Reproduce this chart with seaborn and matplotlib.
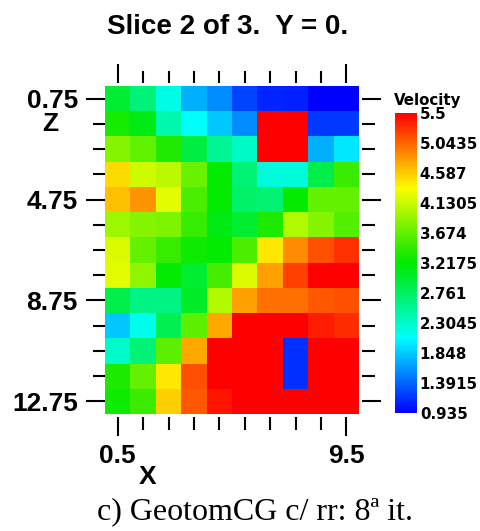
import numpy as np
import pandas as pd
import matplotlib
matplotlib.use("Agg")
import matplotlib.pyplot as plt
from matplotlib.colors import ListedColormap, hsv_to_rgb
import seaborn as sns

# Grid coordinates (cell centres)
x_labels = ["0.5", "1.5", "2.5", "3.5", "4.5", "5.5", "6.5", "7.5", "8.5", "9.5"]
z_labels = ["0.75", "1.75", "2.75", "3.75", "4.75", "5.75", "6.75",
            "7.75", "8.75", "9.75", "10.75", "11.75", "12.75"]

# Velocity per row (Z), one value per X cell
z075 = [2.97, 2.65, 2.17, 1.73, 1.56, 1.24, 1.10, 1.08, 0.94, 0.94]
z175 = [3.31, 3.12, 2.42, 2.08, 1.83, 1.56, 5.50, 5.50, 1.20, 1.20]
z275 = [3.84, 3.67, 3.37, 2.91, 2.53, 2.32, 5.50, 5.50, 1.73, 1.97]
z375 = [4.51, 4.15, 4.07, 3.71, 3.22, 2.68, 2.23, 2.23, 2.87, 3.50]
z475 = [4.64, 4.83, 4.24, 3.56, 3.22, 2.72, 2.70, 3.22, 3.69, 3.69]
z575 = [3.94, 3.84, 3.79, 3.47, 3.12, 2.97, 3.35, 4.02, 3.84, 3.60]
z675 = [4.21, 3.69, 3.47, 3.28, 3.22, 3.58, 4.45, 4.87, 5.14, 5.27]
z775 = [4.24, 3.88, 3.22, 2.97, 3.54, 4.21, 4.78, 5.20, 5.50, 5.50]
z875 = [2.87, 2.61, 2.61, 3.03, 4.02, 4.78, 5.00, 5.00, 5.10, 5.14]
z975 = [1.83, 2.16, 2.84, 3.66, 4.74, 5.50, 5.50, 5.50, 5.37, 5.30]
z1075 = [2.30, 2.68, 3.66, 4.74, 5.50, 5.50, 5.50, 1.16, 5.50, 5.50]
z1175 = [3.35, 3.69, 4.45, 5.14, 5.50, 5.50, 5.50, 1.16, 5.50, 5.50]
z1275 = [3.28, 3.50, 4.57, 5.10, 5.40, 5.50, 5.50, 5.50, 5.50, 5.50]

vel_min, vel_max = 0.935, 5.5
cbar_ticks = [5.5, 5.0435, 4.587, 4.1305, 3.674, 3.2175, 2.761,
              2.3045, 1.848, 1.3915, 0.935]

rows = [z075, z175, z275, z375, z475, z575, z675, z775, z875, z975,
        z1075, z1175, z1275]
df = pd.DataFrame(rows, index=z_labels, columns=x_labels)

# Rainbow colour scale: hue runs from blue (low) to red (high),
# with the greens toned down slightly
hue_deg = np.linspace(240, 0, 256)
val = 1 - 0.08 * np.exp(-((hue_deg - 120) / 40) ** 2)
hsv = np.stack([hue_deg / 360.0, np.ones_like(hue_deg), val], axis=1)
cmap = ListedColormap(hsv_to_rgb(hsv))

sns.set_style("white")
plt.rcParams["font.family"] = ["Liberation Sans", "DejaVu Sans"]
plt.rcParams["text.color"] = "black"
plt.rcParams["xtick.color"] = "black"
plt.rcParams["ytick.color"] = "black"

W, H = 480, 531
fig = plt.figure(figsize=(W / 100, H / 100), dpi=100)


def fx(px):
    return px / W


def fy(py):
    return 1 - py / H


ax = fig.add_axes([fx(105), fy(414), fx(359 - 105), (414 - 86) / H])
cax = fig.add_axes([fx(395), fy(413), fx(22), 300 / H])

sns.heatmap(df, ax=ax, cmap=cmap, vmin=vel_min, vmax=vel_max,
            cbar_ax=cax, cbar_kws={"ticks": cbar_ticks},
            xticklabels=True, yticklabels=True)

# X axis: labelled ends, plain ticks between, on top and bottom
ncol = len(x_labels)
ax.set_xticks([0.5, ncol - 0.5])
ax.set_xticklabels([x_labels[0], x_labels[-1]], rotation=0)
ax.set_xticks(np.arange(1.5, ncol - 1, 1.0), minor=True)

# Z axis: every fourth row labelled, ticks on both sides
nrow = len(z_labels)
major_rows = list(range(0, nrow, 4))
ax.set_yticks([r + 0.5 for r in major_rows])
ax.set_yticklabels([z_labels[r] for r in major_rows], rotation=0)
ax.set_yticks([r + 0.5 for r in range(nrow) if r not in major_rows], minor=True)

ax.tick_params(axis="x", which="both", top=True, bottom=True, direction="out",
               width=1.5, color="black", labelcolor="black", pad=5.5)
ax.tick_params(axis="y", which="both", left=True, right=True, direction="out",
               width=1.5, color="black", labelcolor="black", pad=5.5)
ax.tick_params(which="major", length=14)
ax.tick_params(which="minor", length=9)

for side in ["top", "bottom", "right"]:
    ax.spines[side].set_position(("outward", 2.3))
for sp in ax.spines.values():
    sp.set_visible(False)

for lab in ax.get_xticklabels() + ax.get_yticklabels():
    lab.set_fontsize(19)
    lab.set_fontweight("bold")
    lab.set_family("Liberation Sans")
    lab.set_color("black")

ax.set_xlabel("")
ax.set_ylabel("")

# Axis names
fig.text(fx(148), fy(477), "X", ha="center", va="center", fontsize=19,
         fontweight="bold", family="Liberation Sans", color="black")
fig.text(fx(50), fy(124), "Z", ha="center", va="center", fontsize=19,
         fontweight="bold", family="Liberation Sans", color="black")

# Colour bar labels
cbar = ax.collections[0].colorbar
cbar.outline.set_visible(False)
cax.tick_params(length=0, pad=2, labelcolor="black")
cax.set_yticklabels([f"{t:g}" for t in cbar_ticks])
for lab in cax.get_yticklabels():
    lab.set_fontsize(10.8)
    lab.set_fontweight("bold")
    lab.set_family("DejaVu Sans")
    lab.set_color("black")
fig.text(fx(394), fy(101), "Velocity", ha="left", va="center", fontsize=10.8,
         fontweight="bold", family="DejaVu Sans", color="black")

# Title and caption
fig.text(fx(228), fy(27), "Slice 2 of 3.  Y = 0.", ha="center", va="center",
         fontsize=20, fontweight="bold", family="Liberation Sans", color="black")
fig.text(fx(255), fy(512), "c) GeotomCG c/ rr: 8ª it.", ha="center", va="center",
         fontsize=23, family="Liberation Serif", color="black")

fig.savefig("out.png", dpi=100)
